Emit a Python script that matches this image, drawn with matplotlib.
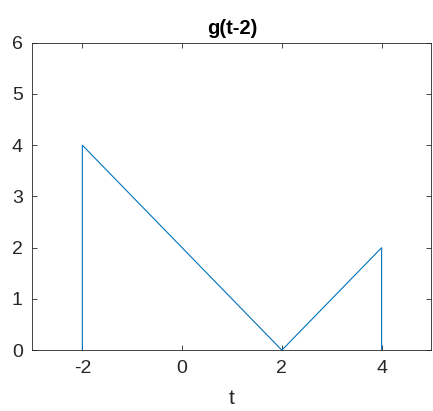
import matplotlib
matplotlib.use("Agg")
import matplotlib.pyplot as plt

# dados: g(t-2)
t = [-2, -2, 2, 4, 4]
g = [0, 4, 0, 2, 0]
xticks = [-2, 0, 2, 4]
yticks = [0, 1, 2, 3, 4, 5, 6]

plt.rcParams["font.family"] = ["Liberation Sans", "DejaVu Sans"]

fig = plt.figure(figsize=(4.33, 4.11), dpi=100)
ax = fig.add_axes([0.075, 0.148, 0.9215, 0.748])

ax.plot(t, g, color="#0072BD", lw=0.8)
ax.set_xlim(-3, 5)
ax.set_ylim(0, 6)
ax.set_xticks(xticks)
ax.set_yticks(yticks)
ax.set_xticklabels([str(v) for v in xticks])
ax.set_yticklabels([str(v) for v in yticks])

ax.tick_params(direction="in", length=3.5, width=0.6, top=True, right=True,
               labelsize=14, colors="#262626", pad=7)
for s in ax.spines.values():
    s.set_color("#262626")
    s.set_linewidth(0.6)

ax.set_xlabel("t", fontsize=15, color="#262626", labelpad=9)
ax.set_title("g(t-2)", fontsize=14.5, fontweight="bold", color="black", pad=6)

fig.savefig("out.png", dpi=100)
